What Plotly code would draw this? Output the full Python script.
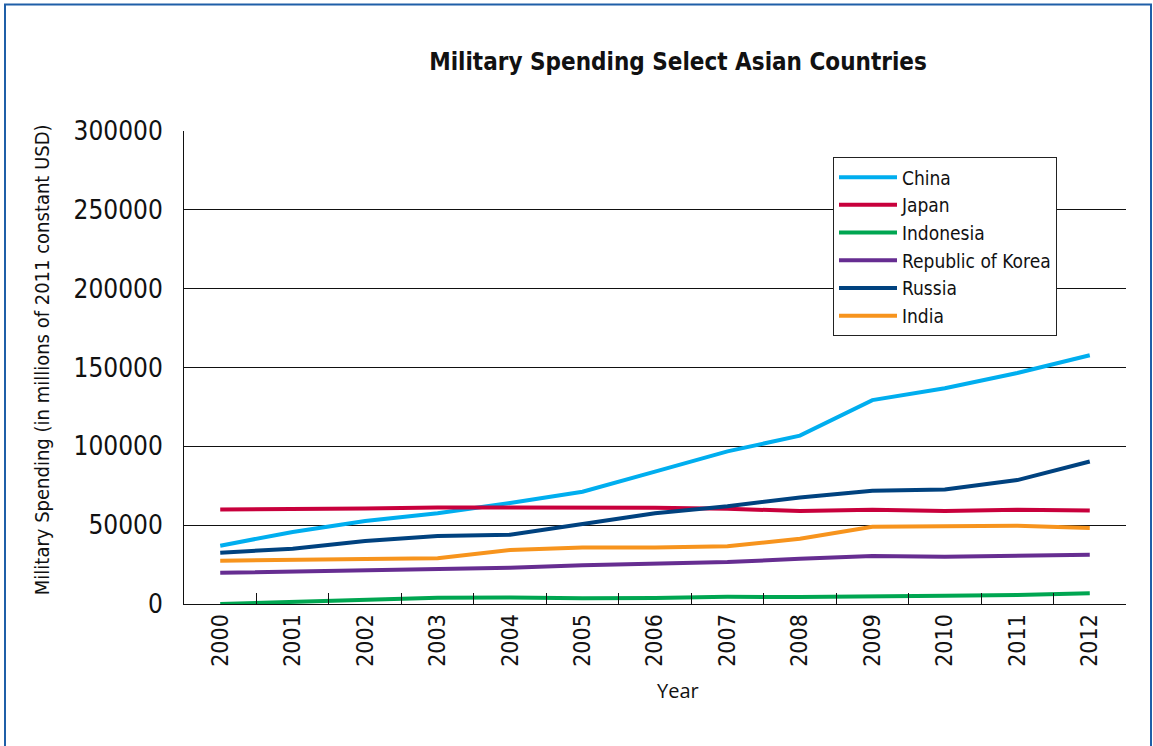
import plotly.graph_objects as go

years = [str(y) for y in range(2000, 2013)]
china = [37000, 45700, 52700, 57600, 64000, 71200, 84000, 96800, 106800, 129300, 136800, 146500, 157800]
japan = [60000, 60000, 60500, 61200, 61300, 61500, 61000, 60400, 59000, 59800, 59000, 59700, 59300]
indonesia = [0, 1500, 3000, 4000, 4200, 3600, 3800, 4600, 4400, 4600, 5300, 5700, 6800]
korea = [19800, 20500, 21100, 21800, 23000, 24500, 25400, 26600, 28700, 30400, 30000, 30900, 31300]
russia = [32500, 35100, 39900, 43100, 44000, 50500, 57500, 62000, 67600, 71800, 72700, 78600, 90400]
india = [27500, 28300, 28500, 29000, 34200, 35900, 35900, 36600, 41400, 49000, 49000, 49600, 48200]

series = [
    ("China", china, "#00aeef"),
    ("Japan", japan, "#c8003c"),
    ("Indonesia", indonesia, "#00a651"),
    ("Republic of Korea", korea, "#662d91"),
    ("Russia", russia, "#00427f"),
    ("India", india, "#f7941d"),
]

COND = "DejaVu Sans Condensed, Roboto, sans-serif"

fig = go.Figure()
for name, vals, col in series:
    fig.add_trace(go.Scatter(x=years, y=vals, name=name, mode="lines",
                             line=dict(color=col, width=4)))

fig.update_layout(
    width=1153, height=746,
    margin=dict(l=184, r=27, t=131, b=142),
    paper_bgcolor="white", plot_bgcolor="white",
    font=dict(family=COND, color="#111"),
    title=dict(text="<b>Military Spending Select Asian Countries</b>",
               x=(678) / 1153, xanchor="center", y=1 - 62 / 746, yanchor="middle",
               font=dict(family=COND, size=24, color="#111")),
    showlegend=True,
    legend=dict(x=(833 - 184) / 942, y=(604 - 157) / 473.3, xanchor="left", yanchor="top",
                bgcolor="white", bordercolor="#222", borderwidth=1,
                font=dict(family=COND, size=19, color="#111"),
                itemwidth=58, tracegroupgap=0),
    xaxis=dict(type="category", showgrid=False, showline=True, linecolor="#111", linewidth=1,
               ticks="inside", ticklen=11, tickcolor="#111", tickson="boundaries",
               tickangle=-90, tickfont=dict(family=COND, size=23, color="#111"),
               range=[-0.5, 12.5], zeroline=False),
    yaxis=dict(range=[0, 300000], tickvals=[0, 50000, 100000, 150000, 200000, 250000, 300000],
               ticktext=["0", "50000", "100000", "150000", "200000", "250000", "300000"],
               showgrid=True, gridcolor="#111", gridwidth=1, showline=True, linecolor="#111",
               linewidth=1, zeroline=False, ticks="", ticklabelstandoff=15,
               tickfont=dict(family=COND, size=26, color="#111")),
)

fig.add_annotation(text="Military Spending (in millions of 2011 constant USD)",
                   xref="paper", yref="paper", x=(42 - 184) / 942, y=(604 - 360) / 473.3,
                   textangle=-90, showarrow=False, xanchor="center", yanchor="middle",
                   font=dict(family=COND, size=20, color="#111"))
fig.add_annotation(text="Year", xref="paper", yref="paper",
                   x=(678 - 184) / 942, y=(604 - 691) / 473.3, showarrow=False,
                   xanchor="center", yanchor="middle",
                   font=dict(family="Open Sans, sans-serif", size=20, color="#111"))

fig.add_shape(type="rect", xref="paper", yref="paper",
              x0=(5 - 184) / 942, x1=(1151 - 184) / 942,
              y0=(604 - 760) / 473.3, y1=(604 - 4) / 473.3,
              line=dict(color="#1f5fa8", width=2), fillcolor="rgba(0,0,0,0)", layer="below")

fig.write_html("out.html")
